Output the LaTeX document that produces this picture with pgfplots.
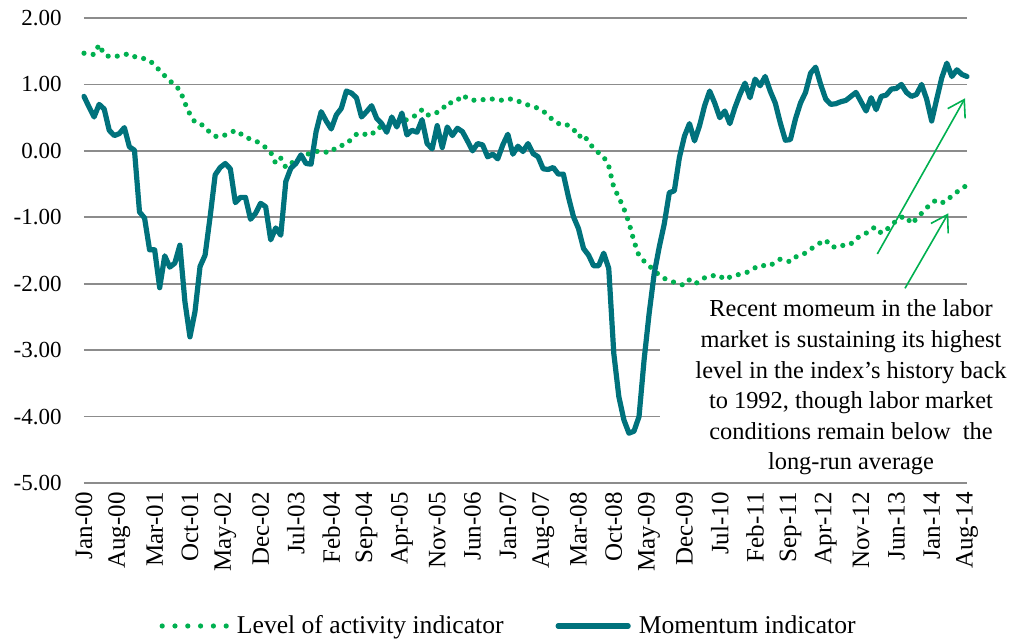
\documentclass[border=0pt]{standalone}
\usepackage{pgfplots}
\pgfplotsset{compat=1.18}
\usepackage{pgfplotstable}
\usepackage{fontspec}
\setmainfont{Liberation Serif}
\usetikzlibrary{arrows.meta}
\definecolor{tealc}{RGB}{0,114,124}
\definecolor{grn}{RGB}{0,176,80}
\definecolor{gridc}{RGB}{140,140,140}

\pgfplotstableread{
m lev mom
0 1.47 0.82
1 1.46 0.66
2 1.45 0.51
3 1.60 0.70
4 1.45 0.63
5 1.42 0.31
6 1.42 0.23
7 1.43 0.26
8 1.45 0.35
9 1.46 0.06
10 1.42 0.01
11 1.39 -0.92
12 1.39 -1.01
13 1.36 -1.49
14 1.29 -1.49
15 1.21 -2.06
16 1.13 -1.58
17 1.06 -1.75
18 0.98 -1.69
19 0.92 -1.42
20 0.72 -2.27
21 0.55 -2.80
22 0.43 -2.42
23 0.41 -1.74
24 0.36 -1.57
25 0.27 -0.99
26 0.22 -0.36
27 0.21 -0.25
28 0.24 -0.19
29 0.27 -0.27
30 0.31 -0.78
31 0.26 -0.70
32 0.20 -0.70
33 0.18 -1.03
34 0.15 -0.94
35 0.11 -0.79
36 0.05 -0.84
37 -0.02 -1.34
38 -0.19 -1.16
39 -0.11 -1.27
40 -0.25 -0.46
41 -0.19 -0.26
42 -0.14 -0.19
43 -0.10 -0.06
44 -0.06 -0.19
45 -0.03 -0.20
46 -0.01 0.29
47 0.00 0.59
48 -0.02 0.45
49 -0.02 0.33
50 0.06 0.54
51 0.08 0.64
52 0.10 0.90
53 0.18 0.87
54 0.25 0.80
55 0.27 0.51
56 0.24 0.59
57 0.24 0.68
58 0.34 0.49
59 0.36 0.41
60 0.37 0.28
61 0.38 0.51
62 0.41 0.36
63 0.44 0.57
64 0.47 0.24
65 0.50 0.31
66 0.55 0.28
67 0.62 0.47
68 0.54 0.11
69 0.54 0.03
70 0.58 0.38
71 0.62 0.05
72 0.73 0.36
73 0.72 0.23
74 0.76 0.34
75 0.84 0.29
76 0.79 0.15
77 0.76 0.00
78 0.77 0.11
79 0.77 0.09
80 0.78 -0.09
81 0.78 -0.05
82 0.77 -0.12
83 0.76 0.09
84 0.78 0.25
85 0.78 -0.05
86 0.75 0.07
87 0.72 -0.01
88 0.69 0.11
89 0.67 -0.04
90 0.64 -0.09
91 0.60 -0.27
92 0.53 -0.28
93 0.46 -0.25
94 0.41 -0.35
95 0.42 -0.35
96 0.38 -0.69
97 0.33 -0.99
98 0.21 -1.17
99 0.25 -1.47
100 0.13 -1.57
101 0.04 -1.73
102 -0.03 -1.73
103 -0.09 -1.54
104 -0.23 -1.77
105 -0.55 -3.05
106 -0.70 -3.70
107 -0.87 -4.05
108 -1.08 -4.25
109 -1.36 -4.22
110 -1.58 -4.00
111 -1.66 -3.15
112 -1.73 -2.45
113 -1.80 -1.85
114 -1.87 -1.45
115 -1.92 -1.10
116 -1.95 -0.63
117 -1.98 -0.60
118 -2.01 -0.10
119 -2.02 0.22
120 -1.94 0.41
121 -2.00 0.15
122 -1.97 0.38
123 -1.91 0.68
124 -1.90 0.90
125 -1.87 0.72
126 -1.88 0.50
127 -1.94 0.60
128 -1.90 0.41
129 -1.87 0.65
130 -1.86 0.85
131 -1.84 1.02
132 -1.81 0.80
133 -1.76 1.08
134 -1.72 0.98
135 -1.73 1.12
136 -1.73 0.90
137 -1.67 0.72
138 -1.63 0.42
139 -1.65 0.16
140 -1.67 0.17
141 -1.60 0.48
142 -1.56 0.72
143 -1.54 0.88
144 -1.48 1.17
145 -1.43 1.26
146 -1.38 1.00
147 -1.34 0.78
148 -1.44 0.70
149 -1.45 0.71
150 -1.42 0.74
151 -1.43 0.76
152 -1.40 0.82
153 -1.32 0.88
154 -1.28 0.74
155 -1.24 0.60
156 -1.17 0.80
157 -1.15 0.62
158 -1.24 0.82
159 -1.19 0.84
160 -1.12 0.93
161 -1.05 0.94
162 -1.00 1.00
163 -0.99 0.88
164 -1.10 0.82
165 -1.02 0.85
166 -0.94 1.00
167 -0.86 0.78
168 -0.78 0.45
169 -0.74 0.78
170 -0.78 1.10
171 -0.76 1.32
172 -0.67 1.12
173 -0.62 1.22
174 -0.56 1.15
175 -0.52 1.12
}\datatable

\begin{document}
\begin{tikzpicture}[x=1pt,y=1pt]
\path[use as bounding box] (0,0) rectangle (506,319.5);
\begin{axis}[
  at={(42pt,78pt)}, anchor=south west,
  scale only axis, width=441.5pt, height=232.5pt,
  xmin=0, xmax=175, ymin=-5, ymax=2,
  clip=false,
  axis line style={draw=none},
  tick style={draw=none},
  major tick length=0pt,
  ymajorgrids, xmajorgrids=false,
  major grid style={gridc, line width=0.9pt},
  ytick={-5,-4,-3,-2,-1,0,1,2},
  yticklabels={-5.00,-4.00,-3.00,-2.00,-1.00,0.00,1.00,2.00},
  xtick={0,7,...,175},
  xticklabels={Jan-00,Aug-00,Mar-01,Oct-01,May-02,Dec-02,Jul-03,Feb-04,Sep-04,Apr-05,Nov-05,Jun-06,Jan-07,Aug-07,Mar-08,Oct-08,May-09,Dec-09,Jul-10,Feb-11,Sep-11,Apr-12,Nov-12,Jun-13,Jan-14,Aug-14},
  xticklabel style={rotate=90, anchor=east, inner sep=0pt, font=\fontsize{12.5}{15}\selectfont},
  xticklabel shift=4.5pt,
  yticklabel style={anchor=east, inner sep=0pt, font=\fontsize{11.5}{14}\selectfont},
  yticklabel shift=11pt,
  legend style={at={(0.482,-0.3075)}, anchor=center, draw=none, fill=none,
    legend columns=2, font=\fontsize{12.8}{15}\selectfont,
    /tikz/every odd column/.append style={column sep=2pt},
    /tikz/every even column/.append style={column sep=24pt},
    inner sep=0pt},
  legend cell align=left,
]
\addplot[grn, line width=2.6pt, line cap=round, dash pattern=on 0pt off 4.6pt,
  legend image code/.code={\draw[grn, line width=2.6pt, line cap=round, dash pattern=on 0pt off 6.4pt] (0pt,0pt) -- (32.1pt,0pt);}]
  table[x=m, y=lev] {\datatable};
\addlegendentry{Level of activity indicator}
\addplot[tealc, line width=2.6pt, line join=round, line cap=round,
  legend image code/.code={\draw[tealc, line width=2.6pt, line cap=round] (0pt,0pt) -- (35pt,0pt);}]
  table[x=m, y=mom] {\datatable};
\addlegendentry{Momentum indicator}
\end{axis}
\fill[white] (330,80.5) rectangle (506,174.5);
\node[align=center, font=\fontsize{12.2}{15.3}\selectfont, inner sep=0pt] at (425.5,125.75)
  {Recent momeum in the labor\\ market is sustaining its highest\\ level in the index\symbol{39}s history back\\ to 1992, though labor market\\ conditions remain below\ \ the\\ long-run average};
\draw[grn, line width=0.8pt, -{Straight Barb[length=8pt,width=10pt]}] (438.65,192.5) -- (482.5,270.35);
\draw[grn, line width=0.8pt, -{Straight Barb[length=8pt,width=10pt]}] (452.5,175.35) -- (474.15,212.85);
\end{tikzpicture}
\end{document}
